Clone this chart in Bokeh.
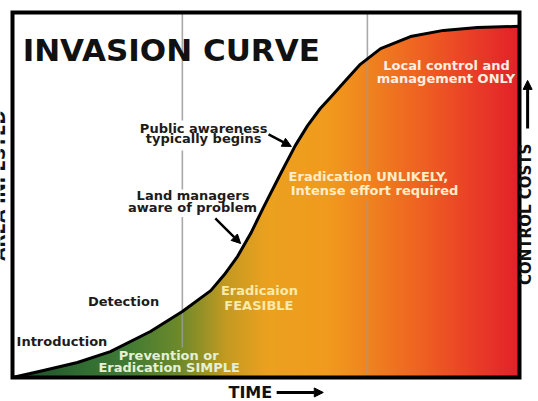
import numpy as np
from bokeh.plotting import figure
from bokeh.models import ColumnDataSource, Range1d, Arrow, NormalHead
from bokeh.core.properties import value
from bokeh.embed import file_html
from bokeh.resources import INLINE

# ---------------- data ----------------
curve_time = [0.0, 6.1, 12.8, 19.3, 27.2, 33.5, 39.1, 41.8, 44.4, 47.0, 49.5, 52.9,
              55.8, 58.2, 60.7, 62.7, 65.7, 68.6, 72.6, 78.5, 85.0, 91.7, 100.0]
curve_area = [0.0, 1.9, 4.1, 7.1, 12.6, 18.1, 23.8, 28.2, 33.2, 39.5, 46.6, 55.9,
              63.6, 69.0, 73.7, 76.7, 81.4, 85.8, 90.1, 93.4, 95.1, 95.9, 96.2]
phase_time = [33.5, 70.0]
time_span = [0.0, 100.0]
area_span = [0.0, 100.0]

title_text = "INVASION CURVE"
dark_labels = ["Public awareness", "typically begins", "Land managers",
               "aware of problem", "Detection"]
dark_label_x = [37.7, 37.7, 35.6, 35.5, 21.9]
dark_label_y = [66.9, 64.1, 48.6, 45.3, 19.5]
intro_label = "Introduction"
light_labels = ["Prevention or", "Eradication SIMPLE", "Eradicaion", "FEASIBLE",
                "Eradication UNLIKELY,", "Intense effort required",
                "Local control and", "management ONLY"]
light_label_x = [30.8, 30.9, 48.7, 48.6, 70.2, 71.4, 85.6, 85.5]
light_label_y = [4.9, 1.5, 22.5, 18.6, 53.7, 50.1, 84.1, 80.6]
x_axis_label = "TIME"
y_axis_label = "CONTROL COSTS"
y_axis_label_left = "AREA INFESTED"

# ---------------- styles ----------------
light_colors = ["#e4f0d8", "#e4f0d8", "#f8eaa8", "#f8eaa8",
                "#fdedc8", "#fdedc8", "#fdeee2", "#fdeee2"]
grad_pos = [0, 12, 22, 33, 42, 50, 62, 70, 80, 90, 100]
grad_col = ["#1d4a28", "#2f6a32", "#3f7a35", "#6e8a2b", "#c49a22", "#eba11f",
            "#f19b1d", "#f0841f", "#ef6322", "#ea4127", "#e3202a"]
FONT = value("DejaVu Sans")
PX_X = 5.07   # pixels per time unit
PX_Y = 3.65   # pixels per area unit
SHIFT = 0.35  # baseline correction, in em


def lift(ys, size):
    return [y + SHIFT * size / PX_Y for y in ys]


def left_shift(xs, size):
    return [x - SHIFT * size / PX_X for x in xs]


# whole canvas is the frame; the chart box sits inside it
p = figure(width=538, height=401,
           x_range=Range1d(-2.367, 103.748), y_range=Range1d(-6.575, 103.288),
           output_backend="svg", toolbar_location=None,
           x_axis_location=None, y_axis_location=None,
           min_border_left=0, min_border_right=0, min_border_top=0, min_border_bottom=0)
p.grid.visible = False
p.background_fill_color = "white"
p.border_fill_color = "white"
p.outline_line_color = None

t0, t1 = time_span
a0, a1 = area_span

# gradient image
N = 500
cols = np.array([[int(c[i:i + 2], 16) for i in (1, 3, 5)] for c in grad_col], dtype=float)
pos = np.linspace(t0, t1, N)
img = np.empty((2, N), dtype=np.uint32)
view = img.view(dtype=np.uint8).reshape((2, N, 4))
for ch in range(3):
    view[:, :, ch] = np.interp(pos, grad_pos, cols[:, ch]).astype(np.uint8)
view[:, :, 3] = 255
p.image_rgba(image=[img], x=t0, y=a0, dw=t1 - t0, dh=a1 - a0)

# white mask above the curve
mask_x = list(curve_time) + [t1 + 1, t1 + 1, t0 - 1, t0 - 1]
mask_y = list(curve_area) + [curve_area[-1], a1 + 1, a1 + 1, curve_area[0]]
p.patch(mask_x, mask_y, fill_color="white", line_color=None)

# phase lines (with gaps around labels)
gaps = [[(100, 70.4), (62.2, 51.5), (44.0, 8.2)], [(100, 55.9), (48.5, 0)]]
sx0, sy0, sx1, sy1 = [], [], [], []
for t, segs in zip(phase_time, gaps):
    for a, b in segs:
        sx0.append(t); sx1.append(t); sy0.append(a); sy1.append(b)
p.segment(sx0, sy0, sx1, sy1, line_color="#9a9a9a", line_width=1.6, line_alpha=0.85)

# curve
p.line(curve_time, curve_area, line_color="black", line_width=3, line_join="round")

# chart box
p.quad(left=[t0], right=[t1], bottom=[a0], top=[a1], fill_color=None,
       line_color="black", line_width=4, line_join="miter")

# texts
p.text(x=[2.0], y=lift([86.85], 31), text=[title_text], text_font=FONT,
       text_font_style="bold", text_font_size="31px", text_color="#111111",
       text_align="left", text_baseline="alphabetic")
p.text(x=dark_label_x, y=lift(dark_label_y, 13), text=dark_labels, text_font=FONT,
       text_font_style="bold", text_font_size="13px", text_color="#1c1c1c",
       text_align="center", text_baseline="alphabetic")
p.text(x=[0.8], y=lift([8.5], 13), text=[intro_label], text_font=FONT,
       text_font_style="bold", text_font_size="13px", text_color="#1c1c1c",
       text_align="left", text_baseline="alphabetic")
src = ColumnDataSource(dict(x=light_label_x, y=lift(light_label_y, 13),
                            text=light_labels, c=light_colors))
p.text(x="x", y="y", text="text", source=src, text_font=FONT, text_font_style="bold",
       text_font_size="13px", text_color="c", text_align="center", text_baseline="alphabetic")

# axis captions
p.text(x=[42.6], y=lift([-5.6], 16), text=[x_axis_label], text_font=FONT,
       text_font_style="bold", text_font_size="16px", text_color="#111111",
       text_align="left", text_baseline="alphabetic")
p.text(x=left_shift([102.37], 15), y=[44.7], text=[y_axis_label], angle=np.pi / 2,
       text_font=FONT, text_font_style="bold", text_font_size="15px",
       text_color="#111111", text_align="center", text_baseline="alphabetic")
p.text(x=left_shift([-1.4], 17), y=[52.6], text=[y_axis_label_left], angle=np.pi / 2,
       text_font=FONT, text_font_style="bold", text_font_size="17px",
       text_color="#111111", text_align="center", text_baseline="alphabetic")

# arrows
arrows = [(50.5, 66.6, 55.0, 63.3, 2.5), (40.0, 43.6, 45.0, 36.7, 2.5),
          (52.1, -4.1, 61.3, -4.1, 3), (101.6, 68.2, 101.6, 81.4, 3)]
for (xs, ys, xe, ye, w) in arrows:
    p.add_layout(Arrow(x_start=xs, y_start=ys, x_end=xe, y_end=ye, line_width=w,
                       line_color="black",
                       end=NormalHead(size=9, fill_color="black", line_color="black")))

open("out.html", "w").write(file_html(p, INLINE))
